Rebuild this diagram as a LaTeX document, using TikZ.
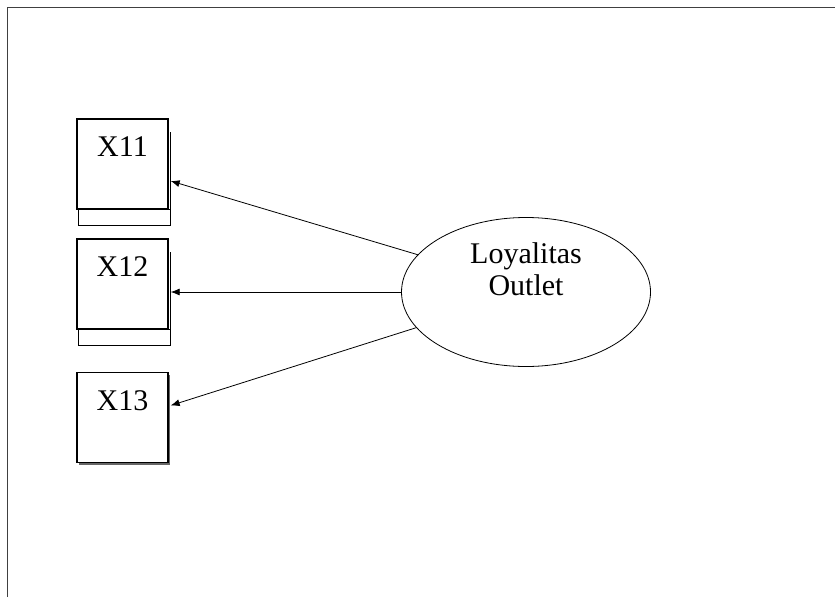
\documentclass[tikz,border=0pt]{standalone}
\usepackage{fontspec}
\setmainfont{Liberation Serif}
\usetikzlibrary{arrows.meta,shapes.geometric,shadows}

\begin{document}
\begin{tikzpicture}[
  x=1pt, y=-1pt,
  font=\fontsize{30}{32}\selectfont,
  >=Latex,
  indicator/.style={
    draw,
    line width=1.3pt,
    minimum width=91pt,
    minimum height=90pt,
    inner sep=0pt,
    text height=19pt,
    text depth=34pt
  },
  latent/.style={
    draw,
    ellipse,
    line width=0.8pt,
    minimum width=249pt,
    minimum height=149pt,
    align=center,
    inner sep=0pt
  },
  loading/.style={-{Latex[length=9pt,width=7pt]}, line width=0.8pt},
  ghost/.style={line width=0.6pt}
]
\useasboundingbox (0,0) rectangle (835,597);

% Frame
\draw[line width=1pt, black!75] (7,597) -- (7,7) -- (835,7);

% Indicators
\node[indicator] (x11) at (122.5,164) {X11};
\node[indicator] (x12) at (122.5,284) {X12};
\node[indicator, drop shadow={shadow xshift=2pt, shadow yshift=-2pt, fill=black!60, opacity=1}, fill=white] (x13) at (122.5,417.5) {X13};

% Leftover outlines
\draw[ghost] ([xshift=2pt,yshift=-14pt]x11.north east) -- ([xshift=2pt]x11.south east);
\draw[ghost] ([xshift=2pt]x11.south west) rectangle ([xshift=2pt,yshift=-16pt]x11.south east);
\draw[ghost] ([xshift=2pt,yshift=-14pt]x12.north east) -- ([xshift=2pt]x12.south east);
\draw[ghost] ([xshift=2pt]x12.south west) rectangle ([xshift=2pt,yshift=-16pt]x12.south east);

% Latent variable
\node[latent] (loyal) at (526,292) {\raisebox{46pt}{\shortstack{Loyalitas\\[1pt]Outlet}}};

% Loadings
\draw[loading] (loyal.161) -- ([xshift=2pt,yshift=-17pt]x11.east);
\draw[loading] (loyal.west) -- ([xshift=2pt,yshift=-8pt]x12.east);
\draw[loading] (loyal.198) -- ([xshift=2pt,yshift=12pt]x13.east);

\end{tikzpicture}
\end{document}
